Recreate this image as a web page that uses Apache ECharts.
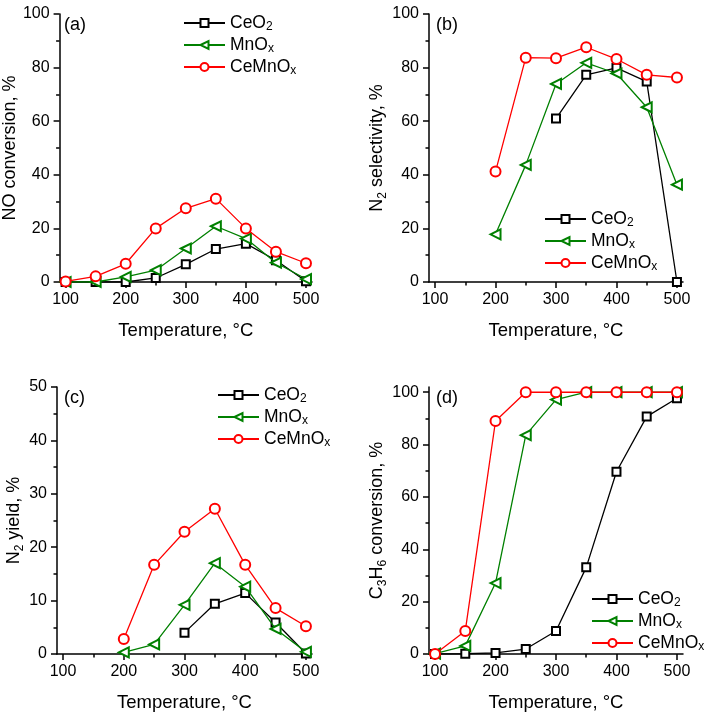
<!DOCTYPE html>
<html><head><meta charset="utf-8">
<script src="https://cdn.jsdelivr.net/npm/echarts@6/dist/echarts.min.js"></script>
<style>html,body{margin:0;padding:0;background:#fff}#c{width:712px;height:719px}</style>
</head><body><div id="c"></div>
<script>
// ---- data ----
const temps = [100, 150, 200, 250, 300, 350, 400, 450, 500];
const seriesNames = ['CeO2', 'MnOx', 'CeMnOx'];

// (a) NO conversion, %
const aCeO2   = [0, 0, 0, 1.5, 6.6, 12.3, 14.3, 8.1, 0.3];
const aMnOx   = [0, 0, 1.9, 4.4, 12.5, 20.8, 16.2, 7.2, 1.1];
const aCeMnOx = [0.2, 2.1, 6.8, 20.0, 27.5, 31.1, 20.0, 11.3, 7.0];

// (b) N2 selectivity, %
const bCeO2   = [null, null, null, null, 61.0, 77.3, 79.9, 74.8, 0];
const bMnOx   = [null, null, 17.8, 43.7, 73.9, 81.8, 77.8, 65.2, 36.3];
const bCeMnOx = [null, null, 41.2, 83.7, 83.5, 87.6, 83.2, 77.3, 76.3];

// (c) N2 yield, %
const cCeO2   = [null, null, null, null, 4.0, 9.4, 11.4, 5.9, 0.1];
const cMnOx   = [null, null, 0.3, 1.8, 9.2, 17.0, 12.6, 4.7, 0.4];
const cCeMnOx = [null, null, 2.8, 16.7, 22.9, 27.2, 16.7, 8.6, 5.2];

// (d) C3H6 conversion, %
const dCeO2   = [0, 0.1, 0.4, 1.9, 8.8, 33.1, 69.6, 90.7, 97.7];
const dMnOx   = [0.1, 3.1, 27.1, 83.6, 97.2, 100, 100, 100, 100];
const dCeMnOx = [0, 8.8, 89.0, 100, 100, 100, 100, 100, 100];

// tick labels
const xMajorTicks = [100, 200, 300, 400, 500];
const xMinorTicks = [150, 250, 350, 450];
const y100MajorTicks = [0, 20, 40, 60, 80, 100];
const y100MinorTicks = [10, 30, 50, 70, 90];
const y50MajorTicks = [0, 10, 20, 30, 40, 50];
const y50MinorTicks = [5, 15, 25, 35, 45];

const panelLabels = ['(a)', '(b)', '(c)', '(d)'];
const xTitle = 'Temperature, \u00B0C';
const yTitles = [
  '{t|NO conversion, %}',
  '{t|N}{s|2}{t| selectivity, %}',
  '{t|N}{s|2}{t| yield, %}',
  '{t|C}{s|3}{t|H}{s|6}{t| conversion, %}'
];
const legendLabels = { CeO2: '{t|CeO}{s|2}', MnOx: '{t|MnO}{s|x}', CeMnOx: '{t|CeMnO}{s|x}' };

// ---- styling ----
const FONT = 'Liberation Sans, Arial, sans-serif';
const titleRich = {
  t: { fontSize: 18, fontFamily: FONT, color: '#000', lineHeight: 22 },
  s: { fontSize: 12, fontFamily: FONT, color: '#000', verticalAlign: 'bottom' }
};
const legendRich = {
  t: { fontSize: 17.5, fontFamily: FONT, color: '#000', lineHeight: 20 },
  s: { fontSize: 12, fontFamily: FONT, color: '#000', verticalAlign: 'bottom' }
};
const colors = { CeO2: '#000000', MnOx: '#008000', CeMnOx: '#ff0000' };
const symbols = { CeO2: 'emptyRect', MnOx: 'emptyTriangle', CeMnOx: 'emptyCircle' };
const symSizes = { CeO2: 8, MnOx: 10, CeMnOx: 10 };
const symRot = { CeO2: 0, MnOx: 90, CeMnOx: 0 };

const grids = [
  { left: 57, top: 14, width: 255, height: 268 },
  { left: 429, top: 14, width: 254, height: 268 },
  { left: 57, top: 387, width: 255, height: 267 },
  { left: 429, top: 387, width: 254, height: 267 }
];
const yRanges = [[0, 100], [0, 100], [0, 50], [0, 102]];
const yMaj = [y100MajorTicks, y100MajorTicks, y50MajorTicks, y100MajorTicks];
const yMin = [y100MinorTicks, y100MinorTicks, y50MinorTicks, y100MinorTicks];
const legendPos = [
  { left: 183, top: 14 },
  { left: 544, top: 210 },
  { left: 217, top: 386 },
  { left: 591, top: 590 }
];
const panelData = [
  [aCeO2, aMnOx, aCeMnOx],
  [bCeO2, bMnOx, bCeMnOx],
  [cCeO2, cMnOx, cCeMnOx],
  [dCeO2, dMnOx, dCeMnOx]
];

const xAxes = [], yAxes = [], series = [], legends = [], titles = [];
grids.forEach((g, i) => {
  xAxes.push({
    type: 'value', gridIndex: i, min: 90, max: 510, position: 'bottom',
    name: xTitle, nameLocation: 'middle', nameGap: 39,
    nameTextStyle: { fontSize: 18.5, fontFamily: FONT, color: '#000' },
    axisLine: { show: true, onZero: false, lineStyle: { color: '#000', width: 1.5 } },
    axisTick: { show: true, inside: false, length: 6, customValues: xMajorTicks, lineStyle: { color: '#000', width: 1.5 } },
    axisLabel: { show: true, margin: 10, customValues: xMajorTicks, fontSize: 16, fontFamily: FONT, color: '#000' },
    splitLine: { show: false }
  });
  xAxes.push({
    type: 'value', gridIndex: i, min: 90, max: 510, position: 'bottom',
    axisLine: { show: false, onZero: false },
    axisTick: { show: true, inside: false, length: 3.5, customValues: xMinorTicks, lineStyle: { color: '#000', width: 1.5 } },
    axisLabel: { show: false, customValues: xMinorTicks },
    splitLine: { show: false }
  });
  yAxes.push({
    type: 'value', gridIndex: i, min: yRanges[i][0], max: yRanges[i][1], position: 'left',
    name: yTitles[i], nameLocation: 'middle', nameGap: 31, nameRotate: 90,
    nameTextStyle: { rich: titleRich },
    axisLine: { show: true, onZero: false, lineStyle: { color: '#000', width: 1.5 } },
    axisTick: { show: true, inside: false, length: 6, customValues: yMaj[i], lineStyle: { color: '#000', width: 1.5 } },
    axisLabel: { show: true, margin: 10, customValues: yMaj[i], fontSize: 16, fontFamily: FONT, color: '#000' },
    splitLine: { show: false }
  });
  yAxes.push({
    type: 'value', gridIndex: i, min: yRanges[i][0], max: yRanges[i][1], position: 'left',
    axisLine: { show: false, onZero: false },
    axisTick: { show: true, inside: false, length: 3.5, customValues: yMin[i], lineStyle: { color: '#000', width: 1.5 } },
    axisLabel: { show: false, customValues: yMin[i] },
    splitLine: { show: false }
  });
  seriesNames.forEach((n, k) => {
    const vals = panelData[i][k];
    series.push({
      name: n, type: 'line', xAxisIndex: 2 * i, yAxisIndex: 2 * i,
      data: temps.map((t, j) => [t, vals[j]]),
      symbol: symbols[n], symbolSize: symSizes[n], symbolRotate: symRot[n],
      showAllSymbol: true,
      color: colors[n],
      lineStyle: { color: colors[n], width: 1.3 },
      itemStyle: { color: colors[n], borderColor: colors[n], borderWidth: 1.3 },
      z: 2 + k
    });
  });
  legends.push({
    orient: 'vertical', left: legendPos[i].left, top: legendPos[i].top,
    data: seriesNames, itemWidth: 41, itemHeight: 10, itemGap: 3, itemTextGap: 7,
    padding: 0,
    formatter: n => legendLabels[n],
    textStyle: { rich: legendRich },
    selectedMode: false
  });
  titles.push({
    text: panelLabels[i], left: g.left + 7, top: g.top + 2, padding: 0,
    textStyle: { fontSize: 18, fontWeight: 'normal', fontFamily: FONT, color: '#000' }
  });
});

const chart = echarts.init(document.getElementById('c'));
chart.setOption({
  animation: false,
  backgroundColor: '#fff',
  title: titles,
  grid: grids,
  xAxis: xAxes,
  yAxis: yAxes,
  legend: legends,
  series: series
});
</script>
</body></html>
